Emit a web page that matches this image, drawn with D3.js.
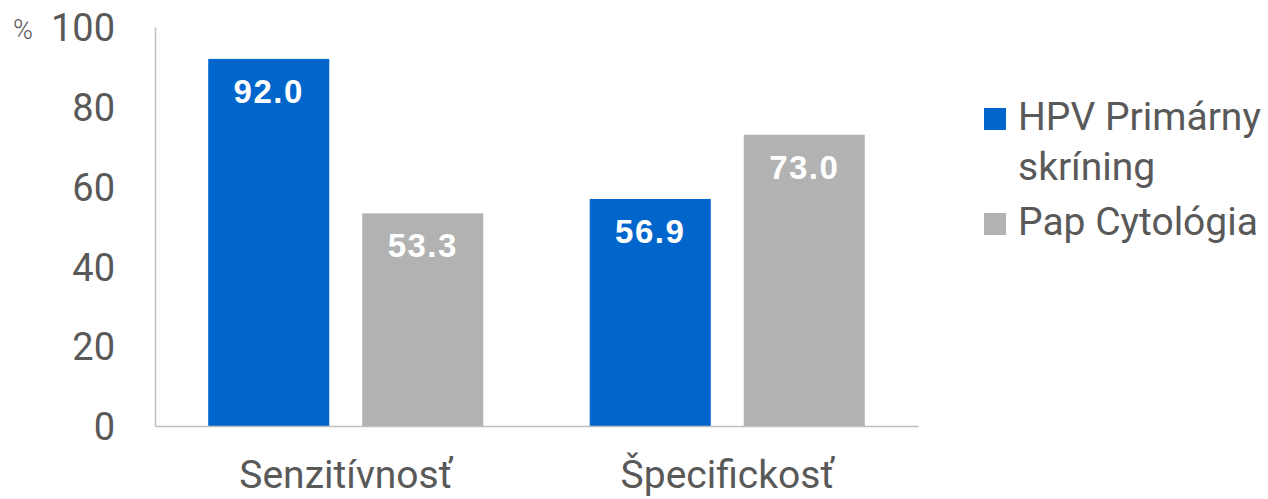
<!DOCTYPE html>
<html><head><meta charset="utf-8">
<script src="https://cdn.jsdelivr.net/npm/d3@7"></script>
<style>body{margin:0;background:#fff}svg{display:block}</style>
</head><body>
<script>
const categories = ["Senzitívnosť", "Špecifickosť"];
const seriesNames = ["HPV Primárny skríning", "Pap Cytológia"];
const hpvValues = [92.0, 56.9];
const papValues = [53.3, 73.0];
const yTicks = [0, 20, 40, 60, 80, 100];
const colors = ["#0066cc", "#b1b2b1"];

const W = 1268, H = 499;
const svg = d3.select("body").append("svg").attr("width", W).attr("height", H);
const x0 = 155, x1 = 918, yTop = 27, yBot = 426;
const x = d3.scaleBand().domain(categories).range([x0, x1]).paddingInner(0).paddingOuter(0);
const xs = d3.scaleBand().domain(seriesNames).range([0, x.bandwidth()]).paddingInner(0.214).paddingOuter(0.3455);
const y = d3.scaleLinear().domain([0, 100]).range([yBot, yTop]);
const textCol = "#595959";
const font = "Roboto, 'Liberation Sans', sans-serif";

// bars
const data = categories.map((c, i) => ({c, vals: [hpvValues[i], papValues[i]]}));
const g = svg.append("g");
data.forEach(d => {
  d.vals.forEach((v, j) => {
    const bx = x(d.c) + xs(seriesNames[j]);
    g.append("rect").attr("x", bx).attr("y", y(v)).attr("width", xs.bandwidth())
      .attr("height", y(0) - y(v)).attr("fill", colors[j]);
    g.append("text").attr("x", bx + xs.bandwidth()/2).attr("y", y(v) + 44)
      .attr("text-anchor", "middle").attr("fill", "#fff")
      .style("font-family", "'Liberation Sans', Arial, sans-serif").style("font-weight", "bold")
      .style("font-size", "33px").style("letter-spacing", "1.5px")
      .text(v.toFixed(1));
  });
});

// y axis
const yAxis = d3.axisLeft(y).tickValues(yTicks).tickSize(0).tickPadding(40);
const ya = svg.append("g").attr("transform", `translate(${x0},0)`).call(yAxis);
ya.select(".domain").attr("stroke", "#bfbfbf").attr("stroke-width", 1.5);
ya.selectAll("text").attr("fill", textCol).style("font-family", font).style("font-size", "38px")
  .attr("dy", "0.36em");

// x axis
const xAxis = d3.axisBottom(x).tickSize(0).tickPadding(34);
const xa = svg.append("g").attr("transform", `translate(0,${yBot})`).call(xAxis);
xa.select(".domain").attr("stroke", "#bfbfbf").attr("stroke-width", 1.5);
xa.selectAll("text").attr("fill", textCol).style("font-family", font).style("font-size", "39px")
  .attr("dy", "0.71em");

// % label
svg.append("text").attr("x", 13).attr("y", 39).attr("fill", textCol)
  .style("font-family", font).style("font-size", "27px").style("font-weight", "300").text("%");

// legend
const legendLines = [["HPV Primárny", "skríning"], ["Pap Cytológia"]];
const legY = [108, 213];
legendLines.forEach((lines, i) => {
  svg.append("rect").attr("x", 984).attr("y", legY[i]).attr("width", 22).attr("height", 22).attr("fill", colors[i]);
  lines.forEach((t, k) => {
    svg.append("text").attr("x", 1018).attr("y", legY[i] + 22 + k * 50).attr("fill", textCol)
      .style("font-family", font).style("font-size", "39px").text(t);
  });
});
</script>
</body></html>
